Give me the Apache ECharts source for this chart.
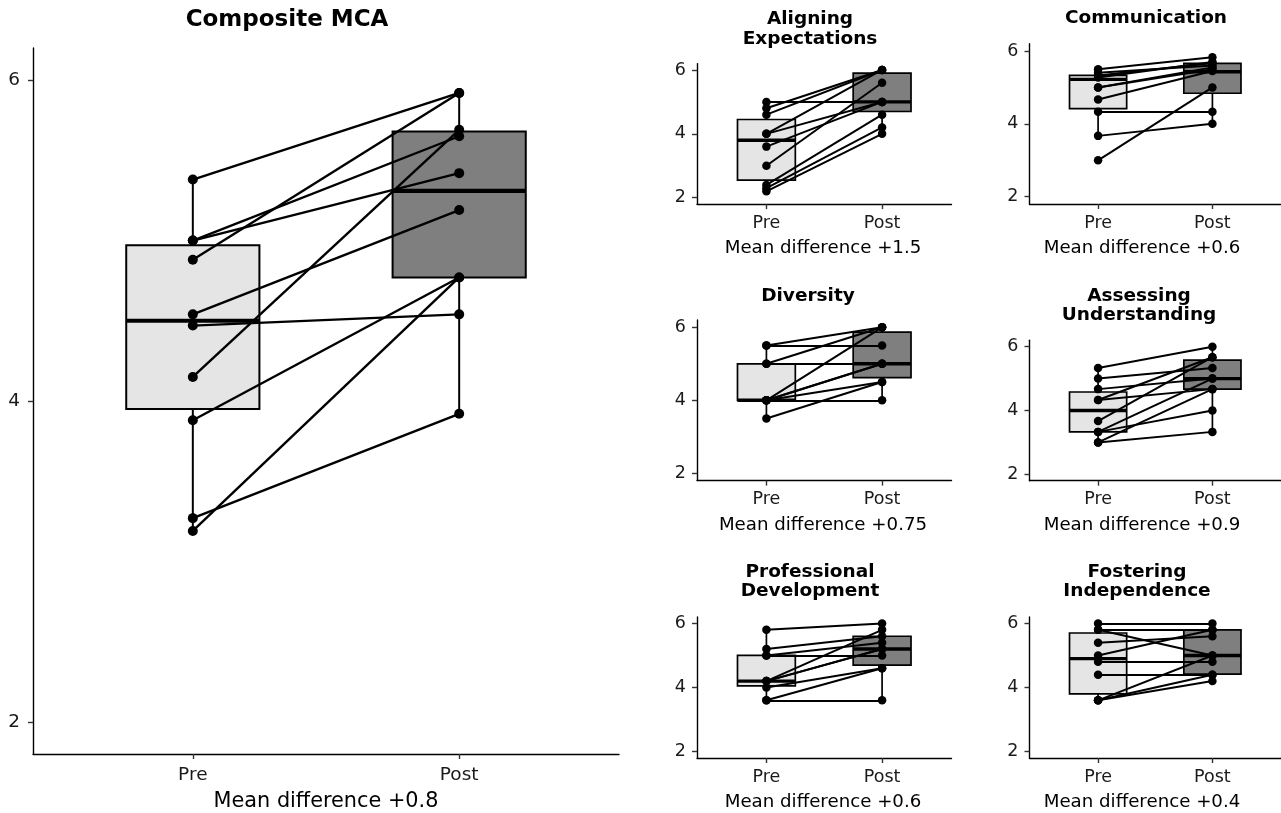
<!DOCTYPE html>
<html>
<head>
<meta charset="utf-8">
<script src="https://cdn.jsdelivr.net/npm/echarts@6/dist/echarts.min.js"></script>
<style>
html,body{margin:0;padding:0;background:#fff;}
#chart{width:1281px;height:813px;}
</style>
</head>
<body>
<div id="chart"></div>
<script>
// ---------------- data ----------------
const categories = ['Pre', 'Post'];
const yTicks = [2, 4, 6];

// Composite MCA (paired: index k of pre belongs to index k of post)
const mainPre  = [5.38, 5.00, 5.00, 4.88, 4.54, 4.47, 4.15, 3.88, 3.27, 3.19];
const mainPost = [5.92, 5.65, 5.42, 5.92, 5.19, 4.54, 5.69, 4.77, 3.92, 4.77];
// box stats: [lower whisker, Q1, median, Q3, upper whisker]
const mainPreBox  = [3.19, 3.95, 4.50, 4.97, 5.38];
const mainPostBox = [3.92, 4.77, 5.31, 5.68, 5.92];

const alignPre  = [5.0, 4.8, 4.6, 4.0, 4.0, 3.6, 3.0, 2.4, 2.3, 2.2];
const alignPost = [5.0, 6.0, 6.0, 6.0, 5.0, 5.0, 5.6, 4.6, 4.2, 4.0];
const alignPreBox  = [2.2, 2.55, 3.8, 4.45, 5.0];
const alignPostBox = [4.0, 4.7, 5.0, 5.9, 6.0];

const commPre  = [3.0, 3.67, 4.33, 4.67, 5.0, 5.0, 5.27, 5.33, 5.4, 5.5];
const commPost = [5.0, 4.0, 4.33, 5.45, 5.55, 5.5, 5.7, 5.67, 5.6, 5.83];
const commPreBox  = [3.67, 4.42, 5.22, 5.33, 5.5];
const commPostBox = [4.0, 4.84, 5.43, 5.66, 5.84];

const divPre  = [5.5, 5.5, 5.0, 5.0, 4.0, 4.0, 4.0, 4.0, 4.0, 3.5];
const divPost = [6.0, 5.5, 6.0, 5.0, 6.0, 5.0, 5.0, 4.0, 4.5, 4.5];
const divPreBox  = [3.5, 4.0, 4.0, 5.0, 5.5];
const divPostBox = [4.0, 4.62, 5.0, 5.87, 6.0];

const assessPre  = [5.33, 5.0, 4.67, 4.33, 4.33, 3.67, 3.33, 3.33, 3.0, 3.0];
const assessPost = [6.0, 5.33, 5.0, 5.67, 4.67, 5.67, 5.0, 4.0, 4.67, 3.33];
const assessPreBox  = [3.0, 3.33, 4.0, 4.58, 5.33];
const assessPostBox = [3.33, 4.67, 5.0, 5.58, 6.0];

const profPre  = [5.8, 5.2, 5.0, 5.0, 4.2, 4.2, 4.2, 4.0, 3.6, 3.6];
const profPost = [6.0, 5.6, 5.0, 5.4, 5.8, 5.2, 5.2, 4.6, 4.6, 3.6];
const profPreBox  = [3.6, 4.05, 4.2, 5.0, 5.8];
const profPostBox = [3.6, 4.7, 5.2, 5.6, 6.0];

const fostPre  = [6.0, 5.8, 5.8, 5.4, 5.0, 4.8, 4.4, 3.6, 3.6, 3.6];
const fostPost = [6.0, 5.8, 5.0, 5.6, 5.8, 4.8, 4.4, 5.0, 4.2, 4.4];
const fostPreBox  = [3.6, 3.8, 4.9, 5.7, 6.0];
const fostPostBox = [4.2, 4.42, 5.0, 5.8, 6.0];

const titles = ['Composite MCA', 'Aligning\nExpectations', 'Communication', 'Diversity',
                'Assessing\nUnderstanding', 'Professional\nDevelopment', 'Fostering\nIndependence'];
const meanDiffLabels = ['Mean difference +0.8', 'Mean difference +1.5', 'Mean difference +0.6',
                        'Mean difference +0.75', 'Mean difference +0.9', 'Mean difference +0.6',
                        'Mean difference +0.4'];

// ---------------- layout (not data) ----------------
const FONT = 'DejaVu Sans';
const layout = [
  {left: 33,     top: 48,    width: 586,   height: 706,   big: true,  titleX: 287,  titleY: 20,   labX: 326,  labY: 802},
  {left: 697,    top: 63.6,  width: 254.5, height: 140.5, big: false, titleX: 810,  titleY: 29,   labX: 823,  labY: 248},
  {left: 1029.5, top: 43.7,  width: 256.5, height: 160.3, big: false, titleX: 1146, titleY: 18,   labX: 1142, labY: 248},
  {left: 697,    top: 320,   width: 254.5, height: 160.6, big: false, titleX: 808,  titleY: 296,  labX: 823,  labY: 525},
  {left: 1029.5, top: 340.3, width: 256.5, height: 140.4, big: false, titleX: 1139, titleY: 305.5, labX: 1142, labY: 525},
  {left: 697,    top: 617,   width: 254.5, height: 141,   big: false, titleX: 810,  titleY: 581.5, labX: 823,  labY: 802},
  {left: 1029.5, top: 617,   width: 256.5, height: 141,   big: false, titleX: 1137, titleY: 581.5, labX: 1142, labY: 802}
];
const pres  = [mainPre, alignPre, commPre, divPre, assessPre, profPre, fostPre];
const posts = [mainPost, alignPost, commPost, divPost, assessPost, profPost, fostPost];
const preBoxes  = [mainPreBox, alignPreBox, commPreBox, divPreBox, assessPreBox, profPreBox, fostPreBox];
const postBoxes = [mainPostBox, alignPostBox, commPostBox, divPostBox, assessPostBox, profPostBox, fostPostBox];
const boxFill = ['#E5E5E5', '#7F7F7F'];

const grids = [], xAxes = [], yAxes = [], series = [], graphics = [];
layout.forEach((L, i) => {
  const fs = L.big ? 18.5 : 17.5;
  grids.push({left: L.left, top: L.top, width: L.width, height: L.height});
  xAxes.push({
    gridIndex: i, type: 'value', min: 0.4, max: 2.6,
    axisLine: {show: true, onZero: false, lineStyle: {color: '#000', width: 1.4}},
    axisTick: {show: true, length: 5, customValues: [1, 2], lineStyle: {color: '#333', width: 1.4}},
    axisLabel: {show: true, customValues: [1, 2], margin: L.big ? 12 : 10, fontFamily: FONT, fontSize: fs, color: '#1a1a1a',
                formatter: v => categories[Math.round(v) - 1] || ''},
    splitLine: {show: false}
  });
  yAxes.push({
    gridIndex: i, type: 'value', min: 1.8, max: 6.2,
    axisLine: {show: true, onZero: false, lineStyle: {color: '#000', width: 1.4}},
    axisTick: {show: true, length: 5, customValues: yTicks, lineStyle: {color: '#333', width: 1.4}},
    axisLabel: {show: true, customValues: yTicks, margin: L.big ? 13 : 11, fontFamily: FONT, fontSize: fs, color: '#1a1a1a'},
    splitLine: {show: false}
  });
  const pb = preBoxes[i], qb = postBoxes[i];
  series.push({
    type: 'custom', xAxisIndex: i, yAxisIndex: i, z: 1,
    data: [[1].concat(pb, [0]), [2].concat(qb, [1])],
    renderItem: function (params, api) {
      const x = api.value(0);
      const hw = 0.25;
      const lo = api.coord([x, api.value(1)]);
      const q1 = api.coord([x - hw, api.value(2)]);
      const q1r = api.coord([x + hw, api.value(2)]);
      const md = api.coord([x - hw, api.value(3)]);
      const mdr = api.coord([x + hw, api.value(3)]);
      const q3 = api.coord([x - hw, api.value(4)]);
      const hi = api.coord([x, api.value(5)]);
      const fill = boxFill[api.value(6)];
      const lw = L.big ? 2 : 1.7;
      return {type: 'group', children: [
        {type: 'line', shape: {x1: lo[0], y1: lo[1], x2: lo[0], y2: q1[1]}, style: {stroke: '#000', lineWidth: lw}},
        {type: 'line', shape: {x1: hi[0], y1: hi[1], x2: hi[0], y2: q3[1]}, style: {stroke: '#000', lineWidth: lw}},
        {type: 'rect', shape: {x: q1[0], y: q3[1], width: q1r[0] - q1[0], height: q1[1] - q3[1]},
         style: {fill: fill, stroke: '#000', lineWidth: lw}},
        {type: 'line', shape: {x1: md[0], y1: md[1], x2: mdr[0], y2: mdr[1]}, style: {stroke: '#000', lineWidth: L.big ? 4.2 : 3.4}}
      ]};
    }
  });
  series.push({
    type: 'lines', coordinateSystem: 'cartesian2d', xAxisIndex: i, yAxisIndex: i, z: 2,
    silent: true,
    lineStyle: {color: '#000', width: L.big ? 2.4 : 2, opacity: 1},
    data: pres[i].map((p, k) => ({coords: [[1, p], [2, posts[i][k]]]}))
  });
  series.push({
    type: 'scatter', xAxisIndex: i, yAxisIndex: i, z: 3,
    symbol: 'circle', symbolSize: L.big ? 10 : 8.5,
    itemStyle: {color: '#000', opacity: 1},
    data: pres[i].map(v => [1, v]).concat(posts[i].map(v => [2, v]))
  });
  graphics.push({
    type: 'text', x: L.titleX, y: L.titleY,
    style: {text: titles[i], fontFamily: FONT, fontWeight: 'bold', fontSize: L.big ? 23 : 18.5,
            fill: '#000', align: 'center', verticalAlign: 'middle', lineHeight: L.big ? 26 : 19.5}
  });
  graphics.push({
    type: 'text', x: L.labX, y: L.labY,
    style: {text: meanDiffLabels[i], fontFamily: FONT, fontSize: L.big ? 20.8 : 18.2,
            fill: '#000', align: 'center', verticalAlign: 'middle'}
  });
});

const chart = echarts.init(document.getElementById('chart'), null, {renderer: 'canvas'});
chart.setOption({
  animation: false,
  backgroundColor: '#fff',
  grid: grids, xAxis: xAxes, yAxis: yAxes, series: series, graphic: graphics
});
</script>
</body>
</html>
